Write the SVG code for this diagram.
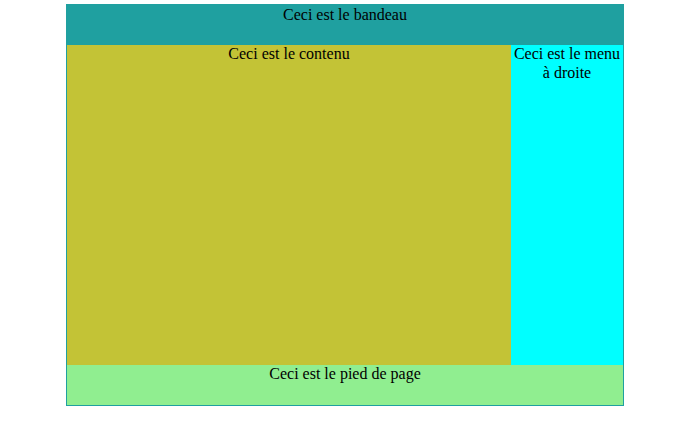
<svg xmlns="http://www.w3.org/2000/svg" width="691" height="433" viewBox="0 0 691 433">
<style>
text{font-family:"Liberation Serif","Times New Roman",serif;font-size:16px;fill:#000;text-anchor:middle}
</style>
<rect width="691" height="433" fill="#fff"/>
<g id="bandeau"><rect x="66" y="4" width="558" height="41" fill="#1fa0a0"/><text x="345" y="20">Ceci est le bandeau</text></g>
<g id="contenu"><rect x="67" y="45" width="444" height="320" fill="#c3c336"/><text x="289" y="59">Ceci est le contenu</text></g>
<g id="menu"><rect x="511" y="45" width="112" height="320" fill="#00ffff"/><text x="567" y="59">Ceci est le menu</text><text x="567" y="78">à droite</text></g>
<g id="pied"><rect x="67" y="365" width="556" height="40" fill="#90ee90"/><text x="345" y="379">Ceci est le pied de page</text></g>
<g id="connectors"></g>
<rect x="66.5" y="4.5" width="557" height="401" fill="none" stroke="#1fa0a0" stroke-width="1"/>
</svg>
